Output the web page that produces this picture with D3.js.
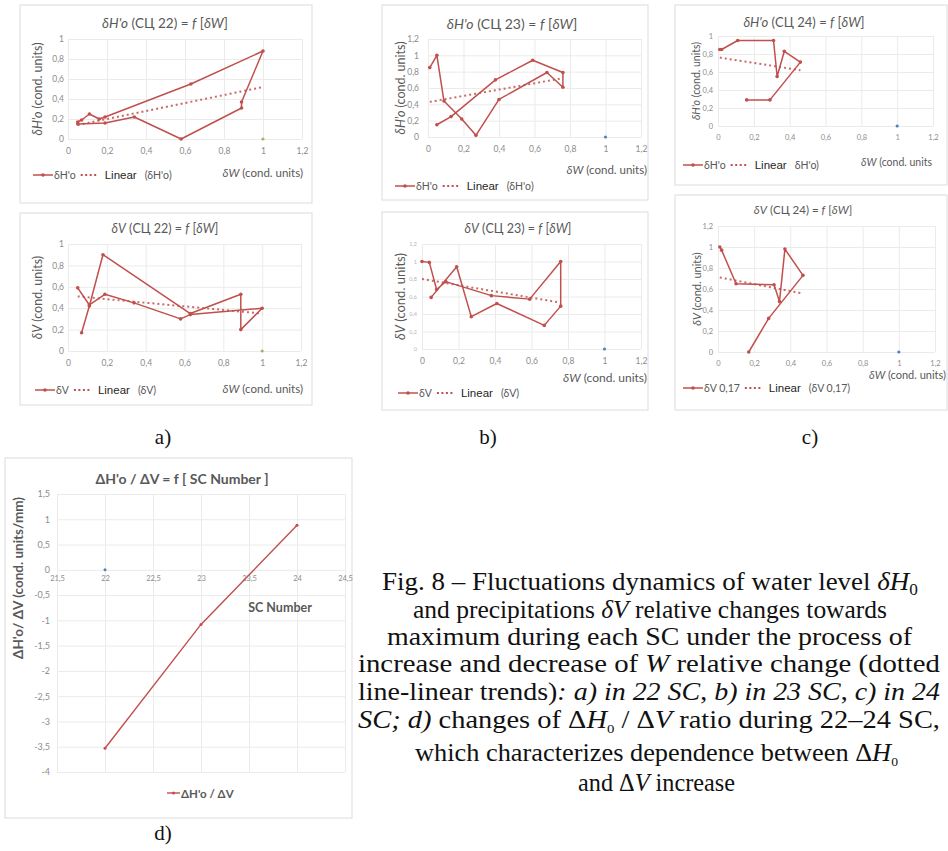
<!DOCTYPE html>
<html>
<head>
<meta charset="utf-8">
<title>Fig. 8</title>
<script src="https://d3js.org/d3.v7.min.js"></script>
<style>
  body { margin: 0; background: #fff; }
  svg { display: block; }
</style>
</head>
<body>
<script>
// ---------- data ----------
const wTicks = [0, 0.2, 0.4, 0.6, 0.8, 1, 1.2];
const yTicksTo1 = [0, 0.2, 0.4, 0.6, 0.8, 1];
const yTicksTo12 = [0, 0.2, 0.4, 0.6, 0.8, 1, 1.2];

// a) SC 22
const sc22W_H = [0.05, 0.07, 0.11, 0.16, 0.19, 0.63, 1.00, 0.89, 0.89, 0.58, 0.34, 0.19, 0.05];
const sc22H   = [0.17, 0.19, 0.25, 0.20, 0.22, 0.55, 0.88, 0.37, 0.31, 0.00, 0.22, 0.16, 0.15];
const sc22TrendW_H = [0.05, 1.0];
const sc22TrendH   = [0.14, 0.52];
const sc22W_V = [0.05, 0.11, 0.19, 0.34, 0.58, 0.63, 1.00, 0.89, 0.89, 0.63, 0.18, 0.11, 0.07];
const sc22V   = [0.59, 0.43, 0.53, 0.45, 0.30, 0.34, 0.40, 0.20, 0.53, 0.35, 0.90, 0.42, 0.17];
const sc22TrendW_V = [0.05, 1.0];
const sc22TrendV   = [0.51, 0.35];

// b) SC 23
const sc23W_H = [0.01, 0.05, 0.09, 0.19, 0.27, 0.40, 0.67, 0.76, 0.76, 0.59, 0.38, 0.13, 0.05];
const sc23H   = [0.85, 1.00, 0.44, 0.22, 0.02, 0.46, 0.79, 0.61, 0.79, 0.94, 0.70, 0.25, 0.15];
const sc23TrendW_H = [0.01, 0.76];
const sc23TrendH   = [0.43, 0.72];
const sc23W_V = [0.00, 0.04, 0.08, 0.13, 0.38, 0.59, 0.76, 0.76, 0.67, 0.41, 0.27, 0.19, 0.05];
const sc23V   = [1.00, 0.99, 0.68, 0.77, 0.61, 0.57, 1.00, 0.49, 0.27, 0.52, 0.37, 0.94, 0.59];
const sc23TrendW_V = [0.00, 0.76];
const sc23TrendV   = [0.80, 0.53];

// c) SC 24
const sc24W_H = [0.01, 0.02, 0.11, 0.31, 0.33, 0.37, 0.46, 0.29, 0.16];
const sc24H   = [0.85, 0.85, 0.95, 0.95, 0.55, 0.83, 0.71, 0.29, 0.29];
const sc24TrendW_H = [0.01, 0.46];
const sc24TrendH   = [0.76, 0.62];
const sc24W_V = [0.01, 0.02, 0.10, 0.31, 0.34, 0.37, 0.47, 0.28, 0.17];
const sc24V   = [1.00, 0.97, 0.65, 0.64, 0.48, 0.98, 0.73, 0.32, 0.00];
const sc24TrendW_V = [0.01, 0.46];
const sc24TrendV   = [0.71, 0.56];

// lone point at (1; 0) in each small chart
const extraW = [1];
const extraY = [0];

// d) ratio by SC number
const scNumbers = [22, 23, 24];
const ratioHV = [-3.53, -1.08, 0.88];
const scTicks = [21.5, 22, 22.5, 23, 23.5, 24, 24.5];
const ratioTicks = [1.5, 1, 0.5, 0, -0.5, -1, -1.5, -2, -2.5, -3, -3.5, -4];
const ratioExtraSC = [22];
const ratioExtraY = [0];

// ---------- styles ----------
const RED = "#c0504d";
const GRAY = "#595959";
const TICK = "#8c8c8c";
const GRID = "#ebebeb";
const FONT = "Lato, 'Open Sans', sans-serif";
const SERIF = "'Liberation Serif', 'Times New Roman', Times, serif";
const comma = v => String(+v.toFixed(2)).replace(".", ",");

const svg = d3.select("body").append("svg")
  .attr("width", 948)
  .attr("height", 851);

function rich(text, parts) {
  parts.forEach(p => {
    const t = text.append("tspan").text(p.t);
    if (p.i) t.attr("font-style", "italic");
    if (p.sub) t.attr("font-size", p.sub).attr("dy", p.dy);
    if (p.back) t.attr("dy", p.back);
  });
  return text;
}

const fTitle = (sym, sc) => [
  {t: sym, i: true}, {t: ` (СЦ ${sc}) = `}, {t: "f", i: true}, {t: " ["}, {t: "δW", i: true}, {t: "]"}
];

const panels = [
  { frame: [20, 5, 292, 198], x0: 68, x1: 302, yZero: 139, yTop: 39, yMax: 1, yTicks: yTicksTo1, yPad: 4,
    title: fTitle("δH'o", 22), titleX: 165, titleY: 23, titleSize: 13.5, ySym: "δH'o", yTitleX: 37, yTitleSize: 12.5,
    xTitleX: 303, xTitleY: 172, xTitleSize: 11.5, xTitleTail: " (cond. units)",
    leg: {x: 33, y: 175, name: "δH'o", paren: "(δH'o)"},
    w: sc22W_H, v: sc22H, tw: sc22TrendW_H, tv: sc22TrendH, dot: "#9bbb59", tickSize: 8.5 },
  { frame: [20, 213, 292, 192], x0: 68, x1: 301, yZero: 351, yTop: 244, yMax: 1, yTicks: yTicksTo1, yPad: 4,
    title: fTitle("δV", 22), titleX: 165, titleY: 228, titleSize: 12.5, ySym: "δV", yTitleX: 37, yTitleSize: 12.5,
    xTitleX: 303, xTitleY: 388, xTitleSize: 11.5, xTitleTail: " (cond. units)",
    leg: {x: 35, y: 390, name: "δV", paren: "(δV)"},
    w: sc22W_V, v: sc22V, tw: sc22TrendW_V, tv: sc22TrendV, dot: "#9bbb59", tickSize: 8.5 },
  { frame: [382, 5, 266, 195], x0: 428, x1: 641, yZero: 137, yTop: 39, yMax: 1.2, yTicks: yTicksTo12, yPad: 9,
    title: fTitle("δH'o", 23), titleX: 512, titleY: 23, titleSize: 14, ySym: "δH'o", yTitleX: 400, yTitleSize: 12.5,
    xTitleX: 647, xTitleY: 169, xTitleSize: 11.5, xTitleTail: " (cond. units)",
    leg: {x: 395, y: 186, name: "δH'o", paren: "(δH'o)"},
    w: sc23W_H, v: sc23H, tw: sc23TrendW_H, tv: sc23TrendH, dot: "#4f81bd", tickSize: 8.5 },
  { frame: [382, 212, 266, 198], x0: 422, x1: 641, yZero: 349, yTop: 244, yMax: 1.2, yTicks: yTicksTo12, yPad: 5,
    title: fTitle("δV", 23), titleX: 518, titleY: 228, titleSize: 12.5, ySym: "δV", yTitleX: 400, yTitleSize: 13,
    xTitleX: 647, xTitleY: 377, xTitleSize: 12, xTitleTail: " (cond. units)",
    leg: {x: 398, y: 393, name: "δV", paren: "(δV)"},
    w: sc23W_V, v: sc23V, tw: sc23TrendW_V, tv: sc23TrendV, dot: "#4f81bd", tickSize: 8.5, yTickSize: 5.5, yTickColor: "#b5b5b5" },
  { frame: [675, 5, 272, 180], x0: 718, x1: 933, yZero: 126, yTop: 36, yMax: 1, yTicks: yTicksTo1, yPad: 5,
    title: fTitle("δH'o", 24), titleX: 804, titleY: 22, titleSize: 13, ySym: "δH'o", yTitleX: 696, yTitleSize: 10.5,
    xTitleX: 932, xTitleY: 162, xTitleSize: 10.5, xTitleTail: " (cond. units",
    leg: {x: 683, y: 165, name: "δH'o", paren: "δH'o)"},
    w: sc24W_H, v: sc24H, tw: sc24TrendW_H, tv: sc24TrendH, dot: "#4f81bd", tickSize: 7.5 },
  { frame: [675, 195, 272, 215], x0: 718, x1: 935, yZero: 352, yTop: 226, yMax: 1.2, yTicks: yTicksTo12, yPad: 5,
    title: fTitle("δV", 24), titleX: 803, titleY: 209, titleSize: 11.5, ySym: "δV", yTitleX: 696, yTitleSize: 11,
    xTitleX: 946, xTitleY: 374, xTitleSize: 11, xTitleTail: " (cond. units)",
    leg: {x: 683, y: 388, name: "δV 0,17", paren: "(δV 0,17)"},
    w: sc24W_V, v: sc24V, tw: sc24TrendW_V, tv: sc24TrendV, dot: "#4f81bd", tickSize: 7.5 }
];

function drawPanel(p) {
  const g = svg.append("g");
  g.append("rect")
    .attr("x", p.frame[0]).attr("y", p.frame[1])
    .attr("width", p.frame[2]).attr("height", p.frame[3])
    .attr("fill", "#fff").attr("stroke", "#dcdcdc");

  const x = d3.scaleLinear().domain([0, 1.2]).range([p.x0, p.x1]);
  const y = d3.scaleLinear().domain([0, p.yMax]).range([p.yZero, p.yTop]);

  // grid
  g.append("g").attr("transform", `translate(${p.x0},0)`)
    .call(d3.axisLeft(y).tickValues(p.yTicks).tickSize(-(p.x1 - p.x0)).tickFormat(""))
    .call(a => a.select(".domain").remove())
    .call(a => a.selectAll("line").attr("stroke", GRID));
  g.append("g").attr("transform", `translate(0,${p.yTop})`)
    .call(d3.axisTop(x).tickValues(wTicks).tickSize(-(p.yZero - p.yTop)).tickFormat(""))
    .call(a => a.select(".domain").remove())
    .call(a => a.selectAll("line").attr("stroke", GRID));

  // tick labels
  g.append("g").attr("transform", `translate(0,${p.yZero})`)
    .call(d3.axisBottom(x).tickValues(wTicks).tickSize(0).tickPadding(9).tickFormat(comma))
    .call(a => a.select(".domain").remove())
    .call(a => a.selectAll("text").attr("fill", TICK).attr("font-size", p.tickSize).attr("font-family", FONT));
  g.append("g").attr("transform", `translate(${p.x0},0)`)
    .call(d3.axisLeft(y).tickValues(p.yTicks).tickSize(0).tickPadding(p.yPad).tickFormat(comma))
    .call(a => a.select(".domain").remove())
    .call(a => a.selectAll("text").attr("fill", p.yTickColor || TICK)
      .attr("font-size", p.yTickSize || p.tickSize).attr("font-family", FONT));

  // titles
  rich(g.append("text").attr("x", p.titleX).attr("y", p.titleY)
    .attr("text-anchor", "middle").attr("dominant-baseline", "central")
    .attr("font-family", FONT).attr("font-size", p.titleSize).attr("fill", GRAY), p.title);
  const yc = (p.yZero + p.yTop) / 2;
  rich(g.append("text").attr("transform", `translate(${p.yTitleX},${yc}) rotate(-90)`)
    .attr("text-anchor", "middle").attr("dominant-baseline", "central")
    .attr("font-family", FONT).attr("font-size", p.yTitleSize).attr("fill", GRAY),
    [{t: p.ySym, i: true}, {t: " (cond. units)"}]);
  rich(g.append("text").attr("x", p.xTitleX).attr("y", p.xTitleY)
    .attr("text-anchor", "end").attr("dominant-baseline", "central")
    .attr("font-family", FONT).attr("font-size", p.xTitleSize).attr("fill", GRAY),
    [{t: "δW", i: true}, {t: p.xTitleTail}]);

  // lone point
  g.selectAll("circle.extra").data(extraW).join("circle").attr("class", "extra")
    .attr("cx", d => x(d)).attr("cy", (d, i) => y(extraY[i])).attr("r", 1.6).attr("fill", p.dot);

  // trend
  const trend = p.tw.map((w, i) => [w, p.tv[i]]);
  g.append("path").datum(trend)
    .attr("d", d3.line().x(d => x(d[0])).y(d => y(d[1])))
    .attr("fill", "none").attr("stroke", RED).attr("stroke-width", 2)
    .attr("stroke-dasharray", "2,3").attr("opacity", 0.85);

  // series
  const pts = p.w.map((w, i) => [w, p.v[i]]);
  g.append("path").datum(pts)
    .attr("d", d3.line().x(d => x(d[0])).y(d => y(d[1])))
    .attr("fill", "none").attr("stroke", RED).attr("stroke-width", 1.5)
    .attr("stroke-linejoin", "round");
  g.selectAll("circle.pt").data(pts).join("circle").attr("class", "pt")
    .attr("cx", d => x(d[0])).attr("cy", d => y(d[1])).attr("r", 1.8).attr("fill", RED);

  // legend
  const L = p.leg;
  g.append("line").attr("x1", L.x).attr("x2", L.x + 20).attr("y1", L.y).attr("y2", L.y)
    .attr("stroke", RED).attr("stroke-width", 1.5);
  g.append("circle").attr("cx", L.x + 10).attr("cy", L.y).attr("r", 1.8).attr("fill", RED);
  const t1 = g.append("text").attr("x", L.x + 21).attr("y", L.y).attr("dominant-baseline", "central")
    .attr("font-family", FONT).attr("font-size", 10.5).attr("fill", GRAY).text(L.name);
  let cx = L.x + 21 + t1.node().getComputedTextLength() + 5;
  g.append("line").attr("x1", cx).attr("x2", cx + 18).attr("y1", L.y).attr("y2", L.y)
    .attr("stroke", RED).attr("stroke-width", 1.8).attr("stroke-dasharray", "2,2.5");
  cx += 24;
  const t2 = g.append("text").attr("x", cx).attr("y", L.y).attr("dominant-baseline", "central")
    .attr("font-family", "'Liberation Sans', Arial, sans-serif").attr("font-size", 11.5).attr("fill", "#262626").text("Linear");
  cx += t2.node().getComputedTextLength() + 8;
  g.append("text").attr("x", cx).attr("y", L.y).attr("dominant-baseline", "central")
    .attr("font-family", FONT).attr("font-size", 10.5).attr("fill", GRAY).text(L.paren);
}

panels.forEach(drawPanel);

// ---------- panel d ----------
(function () {
  const g = svg.append("g");
  g.append("rect").attr("x", 5).attr("y", 458).attr("width", 347).attr("height", 360)
    .attr("fill", "#fff").attr("stroke", "#dcdcdc");
  const x = d3.scaleLinear().domain([21.5, 24.5]).range([57, 345]);
  const y = d3.scaleLinear().domain([-4, 1.5]).range([772, 494]);

  g.append("g").attr("transform", "translate(57,0)")
    .call(d3.axisLeft(y).tickValues(ratioTicks).tickSize(-(345 - 57)).tickFormat(""))
    .call(a => a.select(".domain").remove())
    .call(a => a.selectAll("line").attr("stroke", GRID));
  g.append("g").attr("transform", "translate(0,494)")
    .call(d3.axisTop(x).tickValues(scTicks).tickSize(-(772 - 494)).tickFormat(""))
    .call(a => a.select(".domain").remove())
    .call(a => a.selectAll("line").attr("stroke", GRID));

  g.append("g").attr("transform", `translate(0,${y(0)})`)
    .call(d3.axisBottom(x).tickValues(scTicks).tickSize(0).tickPadding(6).tickFormat(comma))
    .call(a => a.select(".domain").remove())
    .call(a => a.selectAll("text").attr("fill", TICK).attr("font-size", 7.5).attr("font-family", FONT));
  g.append("g").attr("transform", "translate(57,0)")
    .call(d3.axisLeft(y).tickValues(ratioTicks).tickSize(0).tickPadding(7).tickFormat(comma))
    .call(a => a.select(".domain").remove())
    .call(a => a.selectAll("text").attr("fill", TICK).attr("font-size", 9).attr("font-family", FONT));

  g.append("text").attr("x", 182).attr("y", 478).attr("text-anchor", "middle").attr("dominant-baseline", "central")
    .attr("font-family", FONT).attr("font-weight", "bold").attr("font-size", 14).attr("fill", GRAY)
    .text("ΔH'o / ΔV = f [ SC Number ]");
  g.append("text").attr("transform", "translate(18,578) rotate(-90)")
    .attr("text-anchor", "middle").attr("dominant-baseline", "central")
    .attr("font-family", FONT).attr("font-weight", "bold").attr("font-size", 13.5).attr("fill", GRAY)
    .text("ΔH'o/ ΔV (cond. units/mm)");
  g.append("text").attr("x", 280).attr("y", 607).attr("text-anchor", "middle").attr("dominant-baseline", "central")
    .attr("font-family", FONT).attr("font-weight", "bold").attr("font-size", 12.5).attr("fill", GRAY)
    .text("SC Number");

  g.selectAll("circle.extra").data(ratioExtraSC).join("circle").attr("class", "extra")
    .attr("cx", d => x(d)).attr("cy", (d, i) => y(ratioExtraY[i])).attr("r", 1.5).attr("fill", "#4f81bd");

  const pts = scNumbers.map((s, i) => [s, ratioHV[i]]);
  g.append("path").datum(pts)
    .attr("d", d3.line().x(d => x(d[0])).y(d => y(d[1])))
    .attr("fill", "none").attr("stroke", RED).attr("stroke-width", 1.4);
  g.selectAll("circle.pt").data(pts).join("circle").attr("class", "pt")
    .attr("cx", d => x(d[0])).attr("cy", d => y(d[1])).attr("r", 1.5).attr("fill", RED);

  g.append("line").attr("x1", 167).attr("x2", 180).attr("y1", 793).attr("y2", 793)
    .attr("stroke", RED).attr("stroke-width", 1.4);
  g.append("circle").attr("cx", 173.5).attr("cy", 793).attr("r", 1.5).attr("fill", RED);
  g.append("text").attr("x", 181).attr("y", 793).attr("dominant-baseline", "central")
    .attr("font-family", FONT).attr("font-weight", "bold").attr("font-size", 11.5).attr("fill", GRAY)
    .text("ΔH'o / ΔV");
})();

// ---------- panel letters ----------
const letters = [["a)", 163, 437], ["b)", 488, 437], ["c)", 810, 437], ["d)", 163, 833]];
svg.selectAll("text.letter").data(letters).join("text").attr("class", "letter")
  .attr("x", d => d[1]).attr("y", d => d[2]).attr("text-anchor", "middle").attr("dominant-baseline", "central")
  .attr("font-family", SERIF).attr("font-size", 21).attr("fill", "#111").text(d => d[0]);

// ---------- caption ----------
const caption = [
  [{t: "Fig. 8 – Fluctuations dynamics of water level "}, {t: "δH", i: true}, {t: "0", sub: 16, dy: 5}],
  [{t: "and precipitations "}, {t: "δV", i: true}, {t: " relative changes towards"}],
  [{t: "maximum during each SC under the process of"}],
  [{t: "increase and decrease of "}, {t: "W", i: true}, {t: " relative change (dotted"}],
  [{t: "line-linear trends)"}, {t: ": a) in 22 SC", i: true}, {t: ", "}, {t: "b) in 23 SC", i: true},
   {t: ", "}, {t: "c) in 24", i: true}],
  [{t: "SC; d)", i: true}, {t: " changes of  Δ"}, {t: "H", i: true}, {t: "0", sub: 13, dy: 5},
   {t: " / Δ", back: -5}, {t: "V", i: true}, {t: "  ratio during 22–24 SC,"}],
  [{t: "which characterizes dependence between  Δ"}, {t: "H", i: true}, {t: "0", sub: 13, dy: 5}],
  [{t: "and  Δ"}, {t: "V", i: true}, {t: " increase"}]
];
// line centres and spans (left, right) as laid out in the original figure
const captionY = [582, 610, 637, 664, 692, 720, 753, 783];
const captionSpan = [[382, 918], [413, 887], [387, 912], [358, 940], [358, 940], [358, 940], [415, 898], [578, 735]];
caption.forEach((parts, i) => {
  const [l, r] = captionSpan[i];
  rich(svg.append("text").attr("x", (l + r) / 2).attr("y", captionY[i] + 8)
    .attr("text-anchor", "middle").attr("font-family", SERIF).attr("font-size", 25).attr("fill", "#111")
    .attr("textLength", r - l).attr("lengthAdjust", "spacingAndGlyphs"), parts);
});
</script>
</body>
</html>
